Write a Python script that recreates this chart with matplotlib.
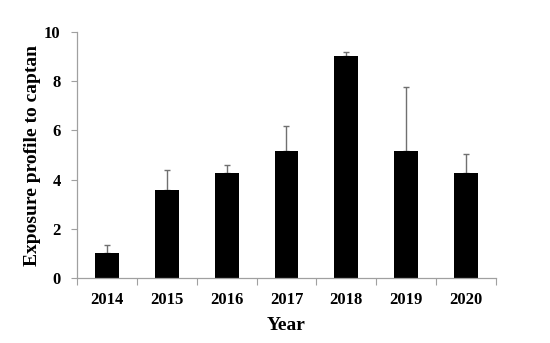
import matplotlib
matplotlib.use("Agg")
import matplotlib.pyplot as plt
import numpy as np

years = ["2014", "2015", "2016", "2017", "2018", "2019", "2020"]
values = [1.01, 3.58, 4.28, 5.17, 9.01, 5.17, 4.26]
err_upper = [0.35, 0.80, 0.33, 1.00, 0.18, 2.57, 0.79]

plt.rcParams['font.family'] = ['Liberation Serif', 'DejaVu Serif']

fig = plt.figure(figsize=(5.5, 3.43), dpi=100)
ax = fig.add_axes([0.1406, 0.1886, 0.7606, 0.719])

x = np.arange(len(years)) + 0.5
ax.bar(x, values, width=0.4, color='black', zorder=2)
ax.errorbar(x, values, yerr=[np.zeros(len(values)), err_upper], fmt='none',
            ecolor='#707070', elinewidth=1.0, capsize=2.5, capthick=1.0, zorder=1)

ax.set_xlim(0, len(years))
ax.set_ylim(0, 10)
ax.set_yticks([0, 2, 4, 6, 8, 10])
ax.set_xticks(np.arange(len(years) + 1))
ax.set_xticklabels([])
ax.set_xticks(x, minor=True)
ax.set_xticklabels(years, minor=True)
ax.tick_params(axis='x', which='minor', length=0, pad=10, labelsize=12)
ax.tick_params(axis='x', which='major', length=5, direction='out', color='#a0a0a0')
ax.tick_params(axis='y', length=4, direction='out', color='#a0a0a0', labelsize=12, pad=8)
for lab in ax.get_xticklabels(minor=True) + ax.get_yticklabels():
    lab.set_fontweight('bold')

for s in ['top', 'right']:
    ax.spines[s].set_visible(False)
for s in ['left', 'bottom']:
    ax.spines[s].set_color('#a0a0a0')
    ax.spines[s].set_linewidth(0.9)

ax.set_xlabel('Year', fontsize=14, fontweight='bold', labelpad=6)
ax.set_ylabel('Exposure profile to captan', fontsize=14, fontweight='bold', labelpad=2)

fig.savefig('out.png', dpi=100)
